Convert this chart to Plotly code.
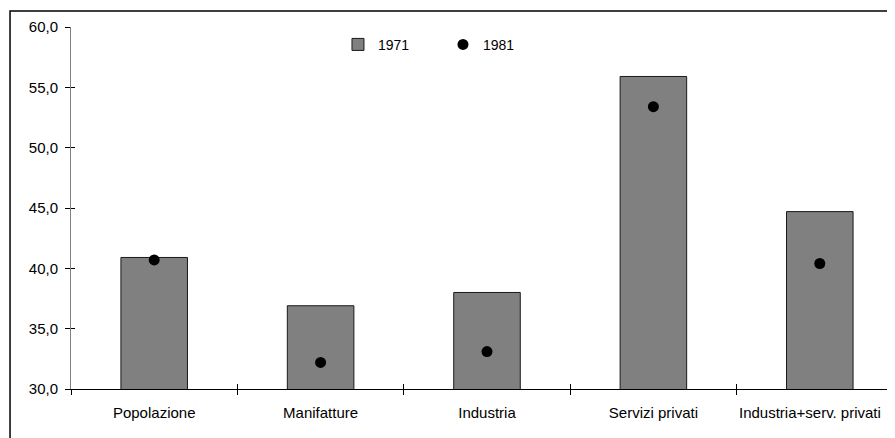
import plotly.graph_objects as go

categories = ["Popolazione", "Manifatture", "Industria", "Servizi privati", "Industria+serv. privati"]
values_1971 = [40.9, 36.9, 38.0, 55.9, 44.7]
values_1981 = [40.7, 32.2, 33.1, 53.4, 40.4]
y_ticks = [30, 35, 40, 45, 50, 55, 60]

FONT = "Liberation Sans, Arial, sans-serif"

# the last label sits a bit left of its centre in the original (it would
# not fit otherwise), so it is drawn as an annotation instead of a tick label
tick_text = categories[:-1] + [""]

fig = go.Figure()

fig.add_trace(go.Bar(
    x=categories, y=values_1971, name="1971",
    marker=dict(color="#808080", line=dict(color="#1a1a1a", width=1)),
    width=0.4,
))
fig.add_trace(go.Scatter(
    x=categories, y=values_1981, name="1981", mode="markers",
    marker=dict(color="black", size=11, symbol="circle"),
))
# invisible trace so the overlay axes (cross ticks) get drawn
fig.add_trace(go.Scatter(
    x=categories, y=values_1981, xaxis="x2", yaxis="y2", mode="markers",
    marker=dict(opacity=0), showlegend=False, hoverinfo="skip",
))

# last category is cut off at the right edge, like the original
x_range = [-0.5, 4.452]

fig.update_layout(
    width=887, height=430,
    margin=dict(l=63, r=0, t=19, b=49, autoexpand=False),
    paper_bgcolor="white", plot_bgcolor="white",
    separators=",.",
    font=dict(family=FONT, size=14, color="black"),
    showlegend=True,
    legend=dict(
        orientation="h", x=0.324, y=0.995, xanchor="left", yanchor="top",
        entrywidth=60, entrywidthmode="pixels",
        font=dict(size=14), bgcolor="rgba(0,0,0,0)",
    ),
    xaxis=dict(
        type="category", range=x_range, tickson="boundaries",
        tickvals=categories, ticktext=tick_text, tickangle=0, automargin=False,
        ticks="outside", ticklen=5, tickcolor="black",
        showline=True, linecolor="black", linewidth=1,
        showgrid=False, zeroline=False,
        tickfont=dict(size=15, family=FONT), ticklabelstandoff=10,
    ),
    yaxis=dict(
        range=[30, 60], tickvals=y_ticks, tickformat=".1f", automargin=False,
        ticks="outside", ticklen=5, tickcolor="black",
        showline=True, linecolor="#808080", linewidth=1,
        showgrid=False, zeroline=False,
        tickfont=dict(size=15, family=FONT), ticklabelstandoff=4,
    ),
    xaxis2=dict(
        type="category", range=x_range, overlaying="x", anchor="y2",
        tickson="boundaries", ticks="inside", ticklen=5, tickcolor="black",
        showticklabels=False, showline=False, showgrid=False, zeroline=False,
        categoryorder="array", categoryarray=categories,
    ),
    yaxis2=dict(
        range=[30, 60], tickvals=y_ticks, overlaying="y", anchor="x2",
        ticks="inside", ticklen=4, tickcolor="black",
        showticklabels=False, showline=False, showgrid=False, zeroline=False,
    ),
    annotations=[dict(
        x=categories[-1], xref="x", y=0, yref="paper",
        text=categories[-1], showarrow=False,
        xanchor="center", yanchor="middle", xshift=-10, yshift=-23,
        font=dict(size=15, family=FONT, color="black"),
    )],
    shapes=[dict(
        type="rect", xref="paper", yref="paper",
        x0=-0.074, x1=1.05, y0=-0.2, y1=1.044,
        line=dict(color="black", width=1.5), fillcolor="rgba(0,0,0,0)",
        layer="below",
    )],
)

fig.write_html("out.html")
